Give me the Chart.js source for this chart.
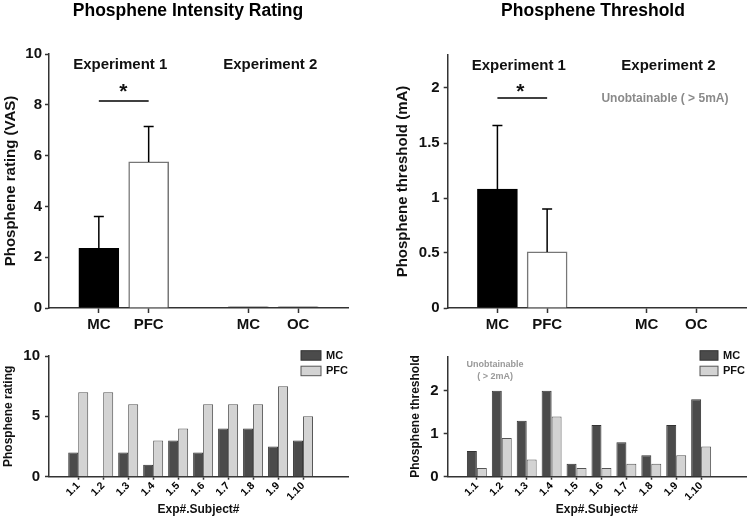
<!DOCTYPE html>
<html>
<head>
<meta charset="utf-8">
<script src="https://cdn.jsdelivr.net/npm/chart.js@4.4.0/dist/chart.umd.min.js"></script>
<style>
    body { margin: 0; background: #fff; }
    #wrap { position: relative; width: 750px; height: 518px; }
    canvas { position: absolute; }
</style>
</head>
<body>
<div id="wrap">
    <canvas id="rating-chart" width="375" height="340" style="left:0;top:0"></canvas>
    <canvas id="threshold-chart" width="375" height="340" style="left:375px;top:0"></canvas>
    <canvas id="rating-subject-chart" width="375" height="178" style="left:0;top:340px"></canvas>
    <canvas id="threshold-subject-chart" width="375" height="178" style="left:375px;top:340px"></canvas>
</div>
<script>
// 组数据 (上方两个图)
const groups = [['MC', 'PFC'], ['MC', 'OC']];
const ratingMeans = [2.35, 5.75, 0.05, 0.05];
const ratingErrors = [1.25, 1.4, 0, 0];
const thresholdMeans = [1.08, 0.51, null, null];
const thresholdErrors = [0.58, 0.39, 0, 0];
const thresholdTicks = [0, 0.5, 1, 1.5, 2];

// 每个受试者 (下方两个图)
const subjects = ['1.1', '1.2', '1.3', '1.4', '1.5', '1.6', '1.7', '1.8', '1.9', '1.10'];
const mcRatings = [2, 0, 2, 1, 3, 2, 4, 4, 2.5, 3];
const pfcRatings = [7, 7, 6, 3, 4, 6, 6, 6, 7.5, 5];
const mcThresholds = [0.6, 2, 1.3, 2, 0.3, 1.2, 0.8, 0.5, 1.2, 1.8];
const pfcThresholds = [0.2, 0.9, 0.4, 1.4, 0.2, 0.2, 0.3, 0.3, 0.5, 0.7];

// 样式
const axisColor = '#333333';
const barFills = ['#000000', '#ffffff', '#333333', '#333333'];
const barBorders = ['#000000', '#777777', '#333333', '#333333'];
const mcColor = '#4b4b4b';
const pfcColor = '#d3d3d3';
const fontFamily = "'Liberation Sans', Arial, sans-serif";

Chart.defaults.font.family = fontFamily;
Chart.defaults.color = '#111111';

// 类别槽位: '', MC, PFC, '', MC, OC, ''
const slotLabels = [''];
groups.forEach(g => { slotLabels.push(...g, ''); });

function toSlots(values) {
    const out = [];
    let k = 0;
    slotLabels.forEach(l => out.push(l ? values[k++] : null));
    return out;
}

function bold(size) {
    return { family: fontFamily, size: size, weight: 'bold' };
}

// 注释插件: 标题, 误差线, 文字, 显著性线, 图例
const notesPlugin = {
    id: 'notes',
    afterDatasetsDraw(chart, args, opts) {
        const ctx = chart.ctx;
        const xs = chart.scales.x;
        const ys = chart.scales.y;
        ctx.save();
        if (opts.errors) {
            const data = chart.data.datasets[0].data;
            ctx.strokeStyle = '#000';
            ctx.lineWidth = 1.5;
            opts.errors.forEach((e, i) => {
                if (!e || data[i] == null) return;
                const px = xs.getPixelForValue(i);
                const y0 = ys.getPixelForValue(data[i]);
                const y1 = ys.getPixelForValue(data[i] + e);
                ctx.beginPath();
                ctx.moveTo(px, y0);
                ctx.lineTo(px, y1);
                ctx.moveTo(px - 5, y1);
                ctx.lineTo(px + 5, y1);
                ctx.stroke();
            });
        }
        ctx.restore();
    },
    afterDraw(chart, args, opts) {
        const ctx = chart.ctx;
        const xs = chart.scales.x;
        const ys = chart.scales.y;
        const area = chart.chartArea;
        ctx.save();
        ctx.textAlign = 'center';
        ctx.textBaseline = 'middle';
        if (opts.title) {
            ctx.fillStyle = '#000';
            ctx.font = `bold 17.5px ${fontFamily}`;
            ctx.fillText(opts.title.text, opts.title.x, opts.title.y);
        }
        (opts.texts || []).forEach(t => {
            ctx.fillStyle = t.color || '#111';
            ctx.font = `bold ${t.size}px ${fontFamily}`;
            ctx.fillText(t.text, xs.getPixelForValue(t.x), ys.getPixelForValue(t.y));
        });
        (opts.lines || []).forEach(l => {
            ctx.strokeStyle = '#000';
            ctx.lineWidth = 1.5;
            const py = ys.getPixelForValue(l.y);
            ctx.beginPath();
            ctx.moveTo(xs.getPixelForValue(l.x1), py);
            ctx.lineTo(xs.getPixelForValue(l.x2), py);
            ctx.stroke();
        });
        if (opts.legend) {
            const lg = opts.legend;
            ctx.textAlign = 'left';
            ctx.font = `bold 11px ${fontFamily}`;
            chart.data.datasets.forEach((ds, i) => {
                const left = area.right - lg.right;
                const top = area.top + lg.top + i * 15.5;
                ctx.fillStyle = ds.backgroundColor;
                ctx.strokeStyle = ds.borderColor;
                ctx.lineWidth = 1;
                ctx.fillRect(left, top, lg.w, 9.5);
                ctx.strokeRect(left, top, lg.w, 9.5);
                ctx.fillStyle = '#111';
                ctx.fillText(ds.label, left + lg.w + 5, top + 5);
            });
        }
        ctx.restore();
    }
};

function yAxis(o) {
    return {
        min: 0,
        max: o.max,
        afterBuildTicks: o.ticks ? (s => { s.ticks = o.ticks.map(v => ({ value: v })); }) : undefined,
        ticks: { stepSize: o.step, font: bold(15), padding: o.tickPad, callback: v => String(v) },
        grid: { drawOnChartArea: false, tickLength: 4, tickWidth: 1.5, tickColor: axisColor },
        border: { color: axisColor, width: 1.5 },
        title: { display: true, text: o.title, font: bold(o.titleSize), padding: { top: o.titlePad, bottom: 0 } },
        afterFit: s => { s.width = o.width; }
    };
}

function makeTopChart(id, o) {
    return new Chart(document.getElementById(id), {
        type: 'bar',
        data: {
            labels: slotLabels,
            datasets: [{
                data: toSlots(o.means),
                backgroundColor: toSlots(barFills),
                borderColor: toSlots(barBorders),
                borderWidth: 1.5,
                barThickness: 40
            }]
        },
        options: {
            responsive: false,
            animation: false,
            layout: { padding: o.padding },
            plugins: { legend: { display: false }, tooltip: { enabled: false }, notes: o.notes },
            scales: {
                x: {
                    offset: false,
                    grid: {
                        offset: false,
                        drawOnChartArea: false,
                        tickLength: 5,
                        tickWidth: 1.5,
                        tickColor: c => (slotLabels[c.index] ? axisColor : 'rgba(0,0,0,0)')
                    },
                    border: { color: axisColor, width: 1.5 },
                    ticks: { font: bold(15), padding: 3, autoSkip: false, maxRotation: 0 },
                    afterFit: s => { s.height = 32; }
                },
                y: o.y
            }
        },
        plugins: [notesPlugin]
    });
}

function makeSubjectChart(id, o) {
    return new Chart(document.getElementById(id), {
        type: 'bar',
        data: {
            datasets: [{
                label: 'MC',
                data: subjects.map((s, i) => ({ x: i + 1, y: o.mc[i] })),
                backgroundColor: mcColor,
                borderColor: '#333333',
                borderWidth: 1
            }, {
                label: 'PFC',
                data: subjects.map((s, i) => ({ x: i + 1, y: o.pfc[i] })),
                backgroundColor: pfcColor,
                borderColor: '#555555',
                borderWidth: 1
            }]
        },
        options: {
            responsive: false,
            animation: false,
            layout: { padding: o.padding },
            datasets: { bar: { categoryPercentage: 0.8, barPercentage: 1 } },
            plugins: { legend: { display: false }, tooltip: { enabled: false }, notes: o.notes },
            scales: {
                x: {
                    type: 'linear',
                    min: -0.17,
                    max: 11.8,
                    offset: false,
                    afterBuildTicks: s => { s.ticks = subjects.map((_, i) => ({ value: i + 1 })); },
                    ticks: {
                        callback: (v, i) => subjects[i],
                        minRotation: 45,
                        maxRotation: 45,
                        autoSkip: false,
                        font: bold(10.5),
                        color: '#000',
                        padding: 0
                    },
                    grid: { offset: false, drawOnChartArea: false, tickLength: 3, tickWidth: 1.5, tickColor: axisColor },
                    border: { color: axisColor, width: 1.5 },
                    title: { display: true, text: 'Exp#.Subject#', font: bold(12), padding: { top: 0, bottom: 1.5 } },
                    afterFit: s => { s.height = 41.3; }
                },
                y: o.y
            }
        },
        plugins: [notesPlugin]
    });
}

// 上左: 光幻视强度
makeTopChart('rating-chart', {
    means: ratingMeans,
    padding: { top: 54, right: 27, left: 0, bottom: 0 },
    y: yAxis({ max: 10, step: 2, title: 'Phosphene rating (VAS)', titleSize: 15, titlePad: 1.6, tickPad: 3, width: 49 }),
    notes: {
        title: { text: 'Phosphene Intensity Rating', x: 188, y: 11 },
        errors: toSlots(ratingErrors),
        texts: [
            { text: 'Experiment 1', x: 1.43, y: 9.57, size: 15 },
            { text: 'Experiment 2', x: 4.44, y: 9.57, size: 15 },
            { text: '*', x: 1.49, y: 8.5, size: 21 }
        ],
        lines: [{ x1: 1, x2: 2, y: 8.15 }]
    }
});

// 上右: 光幻视阈值
makeTopChart('threshold-chart', {
    means: thresholdMeans,
    padding: { top: 55, right: 4, left: 0, bottom: 0 },
    y: yAxis({ max: 2.3, ticks: thresholdTicks, title: 'Phosphene threshold (mA)', titleSize: 15, titlePad: 19, tickPad: 4, width: 72.7 }),
    notes: {
        title: { text: 'Phosphene Threshold', x: 218, y: 11 },
        errors: toSlots(thresholdErrors),
        texts: [
            { text: 'Experiment 1', x: 1.43, y: 2.2, size: 15 },
            { text: 'Experiment 2', x: 4.44, y: 2.2, size: 15 },
            { text: '*', x: 1.46, y: 1.96, size: 21 },
            { text: 'Unobtainable ( > 5mA)', x: 4.37, y: 1.9, size: 12, color: '#8a8a8a' }
        ],
        lines: [{ x1: 1, x2: 2, y: 1.91 }]
    }
});

// 下左: 每个受试者评分
makeSubjectChart('rating-subject-chart', {
    mc: mcRatings,
    pfc: pfcRatings,
    padding: { top: 16, right: 27, left: 0, bottom: 0 },
    y: yAxis({ max: 10, step: 5, title: 'Phosphene rating', titleSize: 12, titlePad: 1, tickPad: 5, width: 49 }),
    notes: { legend: { right: 47, top: -5.3, w: 20 } }
});

// 下右: 每个受试者阈值
makeSubjectChart('threshold-subject-chart', {
    mc: mcThresholds,
    pfc: pfcThresholds,
    padding: { top: 16.3, right: 4, left: 0, bottom: 0 },
    y: yAxis({ max: 2.8, ticks: [0, 1, 2], title: 'Phosphene threshold', titleSize: 12, titlePad: 33, tickPad: 5, width: 72.7 }),
    notes: {
        legend: { right: 46, top: -5.6, w: 18 },
        texts: [
            { text: 'Unobtainable', x: 1.73, y: 2.6, size: 9, color: '#999999' },
            { text: '( > 2mA)', x: 1.73, y: 2.32, size: 9, color: '#999999' }
        ]
    }
});
</script>
</body>
</html>
